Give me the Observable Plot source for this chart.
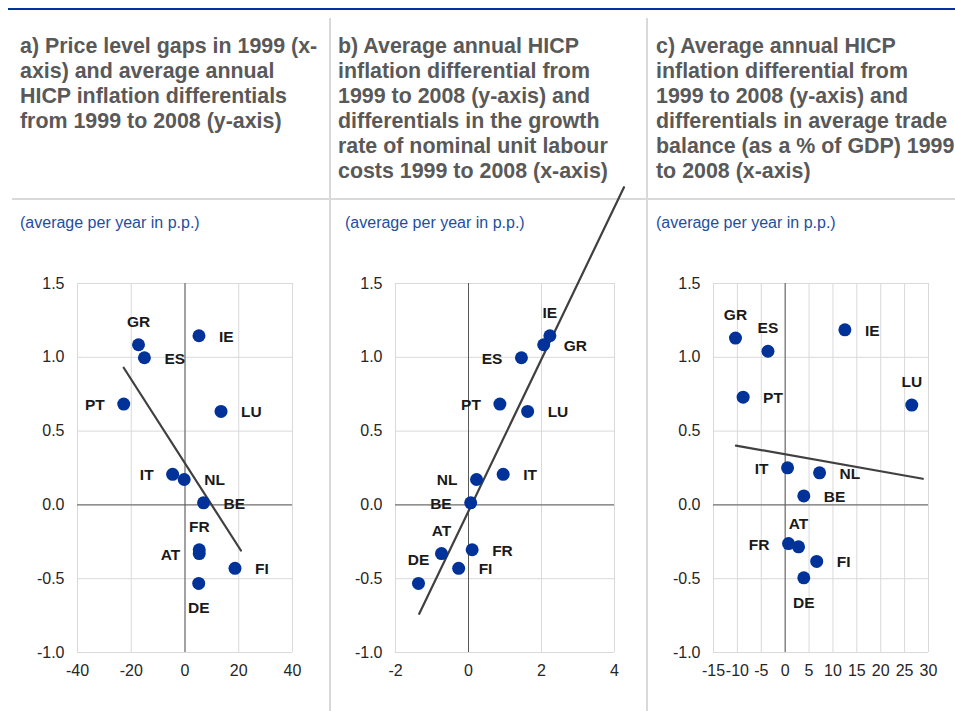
<!DOCTYPE html>
<html><head><meta charset="utf-8">
<script src="https://cdn.jsdelivr.net/npm/d3@7"></script>
<script src="https://cdn.jsdelivr.net/npm/@observablehq/plot@0.6"></script>
<style>
body{margin:0;background:#fff;}
#wrap{position:relative;width:955px;height:711px;overflow:hidden;font-family:"Liberation Sans",Arial,sans-serif;background:#fff;}
.rule-top{position:absolute;left:8px;top:8px;width:947px;height:2px;background:#003299;}
.vsep{position:absolute;top:18px;width:1.5px;height:693px;background:#d9d9d9;}
.hsep{position:absolute;left:12px;top:198px;width:943px;height:2px;background:#d9d9d9;}
.title{position:absolute;top:34px;font-weight:bold;font-size:21.4px;line-height:25px;color:#595959;white-space:nowrap;}
.sub{position:absolute;top:214px;font-size:16px;color:#1f4ea0;white-space:nowrap;}
.panel{position:absolute;top:260px;}
</style>
</head><body>
<div id="wrap">
  <div class="rule-top"></div>
  <div class="hsep"></div>
  <div class="vsep" style="left:329px"></div>
  <div class="vsep" style="left:646px"></div>
  <div class="title" style="left:20px">a) Price level gaps in 1999 (x-<br>axis) and average annual<br>HICP inflation differentials<br>from 1999 to 2008 (y-axis)</div>
  <div class="title" style="left:338px">b) Average annual HICP<br>inflation differential from<br>1999 to 2008 (y-axis) and<br>differentials in the growth<br>rate of nominal unit labour<br>costs 1999 to 2008 (x-axis)</div>
  <div class="title" style="left:656px">c) Average annual HICP<br>inflation differential from<br>1999 to 2008 (y-axis) and<br>differentials in average trade<br>balance (as a % of GDP) 1999<br>to 2008 (x-axis)</div>
  <div class="sub" style="left:20px">(average per year in p.p.)</div>
  <div class="sub" style="left:345px">(average per year in p.p.)</div>
  <div class="sub" style="left:656px">(average per year in p.p.)</div>
  <div class="panel" id="pa" style="left:0px"></div>
  <div class="panel" id="pb" style="left:330px"></div>
  <div class="panel" id="pc" style="left:647px"></div>
</div>
<script>
// ---- data ----
const countries = ["GR","ES","IE","PT","LU","IT","NL","BE","FR","AT","FI","DE"];
// average annual HICP inflation differential 1999-2008 (panels a, b)
const hicpDiff = [1.085, 0.997, 1.146, 0.683, 0.633, 0.207, 0.172, 0.014, -0.304, -0.330, -0.430, -0.532];
// same measure as plotted in panel c
const hicpDiffC = [1.130, 1.041, 1.186, 0.730, 0.676, 0.251, 0.217, 0.061, -0.262, -0.284, -0.383, -0.494];
// panel a x: price level gaps in 1999
const priceGap = [-17.3, -15.1, 5.2, -22.8, 13.4, -4.6, -0.3, 6.9, 5.3, 5.3, 18.6, 5.1];
// panel b x: differentials in nominal ULC growth
const ulcDiff = [2.06, 1.45, 2.23, 0.86, 1.62, 0.95, 0.22, 0.06, 0.10, -0.74, -0.27, -1.37];
// panel c x: differentials in average trade balance (% of GDP)
const tradeDiff = [-10.4, -3.6, 12.5, -8.8, 26.5, 0.5, 7.2, 3.9, 0.7, 2.8, 6.6, 3.9];

// trend lines (end points)
const trendAx = [-22.8, 20.8], trendAy = [0.929, -0.309];
const trendBx = [-1.35, 4.26], trendBy = [-0.738, 2.152];
const trendCx = [-10.3, 28.8], trendCy = [0.402, 0.177];

// tick values
const yTicks = [-1.0, -0.5, 0.0, 0.5, 1.0, 1.5];
const xTicksA = [-40, -20, 0, 20, 40];
const xTicksB = [-2, 0, 2, 4];
const xTicksC = [-15, -10, -5, 0, 5, 10, 15, 20, 25, 30];

// label placement relative to each dot
const posA = ["above","right","right","left","right","left","right","right","above","left","right","below"];
const posB = ["right","left","above","left","right","right","left","left","right","above","right","above"];
const posC = ["above","above","right","right","above","left","right","right","left","above","right","below"];

// ---- drawing ----
const placement = {
  right: {dx: 20, dy: 1, textAnchor: "start"},
  left:  {dx: -19, dy: 1, textAnchor: "end"},
  above: {dx: 0, dy: -23, textAnchor: "middle"},
  below: {dx: 0, dy: 25, textAnchor: "middle"}
};

function panel(el, xs, ys, pos, tx, ty, xTicks, width, ml, mr) {
  const data = countries.map((c, i) => ({c, x: xs[i], y: ys[i], p: pos[i]}));
  const trend = tx.map((x, i) => ({x, y: ty[i]}));
  const labelMarks = Object.keys(placement).map(k =>
    Plot.text(data.filter(d => d.p === k), {
      x: "x", y: "y", text: "c", ...placement[k],
      fontWeight: "bold", fontSize: 15.5, fill: "#1a1a1a", lineAnchor: "middle"
    }));
  const chart = Plot.plot({
    width, height: 451,
    marginLeft: ml, marginRight: mr, marginTop: 23, marginBottom: 59,
    style: {overflow: "visible", background: "transparent", fontFamily: "Liberation Sans, Arial, sans-serif", fontSize: "16px", color: "#262626"},
    x: {domain: [xTicks[0], xTicks[xTicks.length - 1]], label: null},
    y: {domain: [-1, 1.5], label: null},
    marks: [
      Plot.gridX(xTicks, {stroke: "#d9d9d9", strokeOpacity: 1}),
      Plot.gridY(yTicks, {stroke: "#d9d9d9", strokeOpacity: 1}),
      Plot.ruleX([0], {stroke: "#595959"}),
      Plot.ruleY([0], {stroke: "#595959"}),
      Plot.axisX(xTicks, {tickSize: 0, tickPadding: 12, label: null, tickFormat: d => String(d), fontSize: 16}),
      Plot.axisY(yTicks, {tickSize: 0, tickPadding: 13, label: null, tickFormat: d => d.toFixed(1), fontSize: 16}),
      Plot.line(trend, {x: "x", y: "y", stroke: "#404040", strokeWidth: 2.2}),
      Plot.dot(data, {x: "x", y: "y", r: 6.5, fill: "#003299", stroke: "none"}),
      ...labelMarks
    ]
  });
  document.getElementById(el).appendChild(chart);
}

panel("pa", priceGap, hicpDiff, posA, trendAx, trendAy, xTicksA, 325, 77, 33);
panel("pb", ulcDiff, hicpDiff, posB, trendBx, trendBy, xTicksB, 316, 65, 32);
panel("pc", tradeDiff, hicpDiffC, posC, trendCx, trendCy, xTicksC, 308, 66, 27);
</script>
</body></html>
